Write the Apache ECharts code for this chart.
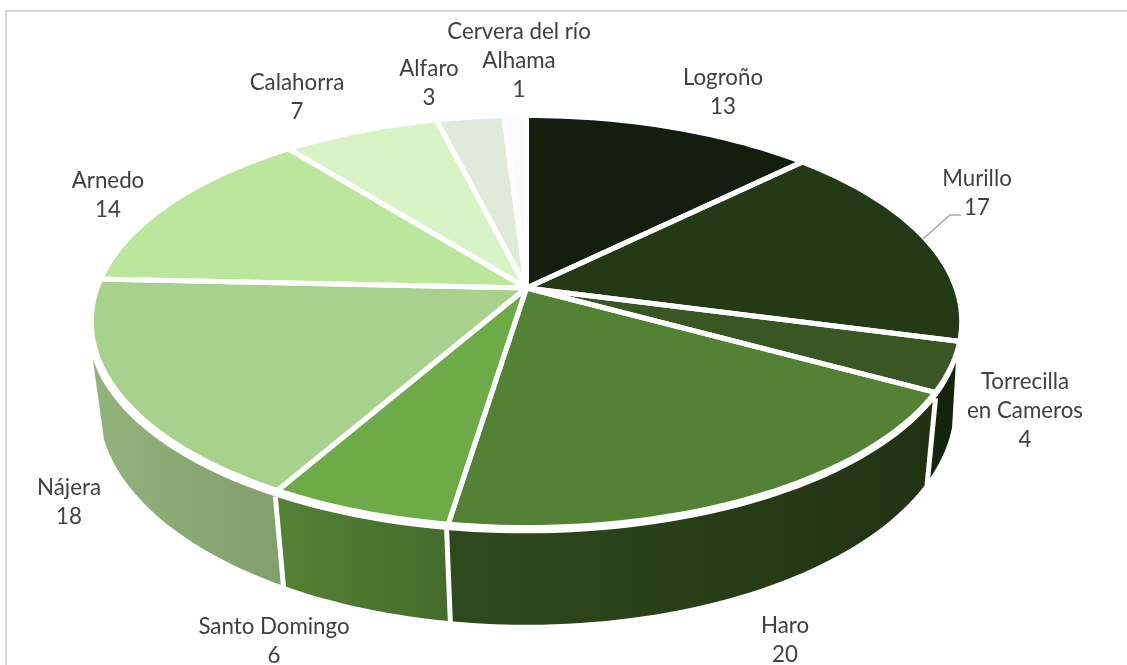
<!DOCTYPE html>
<html><head><meta charset="utf-8">
<style>html,body{margin:0;padding:0;background:#fff}#c{width:1127px;height:665px}</style>
<script src="https://cdn.jsdelivr.net/npm/echarts@6/dist/echarts.min.js"></script>
</head><body><div id="c"></div>
<script>
const categories = ['Logroño','Murillo','Torrecilla en Cameros','Haro','Santo Domingo','Nájera','Arnedo','Calahorra','Alfaro','Cervera del río Alhama'];
const values = [13,17,4,20,6,18,14,7,3,1];

const topColors = ['#131e0c','#243a17','#385723','#548235','#6dab48','#a9d18e','#bbe79d','#d8f3c6','#e0ead8','#fbfcfa'];
const sideColors = [null,null,['#15240c','#15240c'],['#2f4b1d','#203212'],['#548235','#466b2b'],['#91b37b','#819f6c'],null,null,null,null];

const labelLines = [['Logroño','13'],['Murillo','17'],['Torrecilla','en Cameros','4'],['Haro','20'],['Santo Domingo','6'],['Nájera','18'],['Arnedo','14'],['Calahorra','7'],['Alfaro','3'],['Cervera del río','Alhama','1']];
const labelCentre = [[723,92],[977,193],[1025,411],[785,640],[274,641],[69,502],[108,195],[297,97],[429,83],[519,61]];
const leader = [[923,239],[950,215],[961,215]];

// Perspective camera for the pie's rim circles
const CX = 526.5, TOP = {y0:288, ax:426.8, ay:198, p:0.1646}, BOT = {y0:370, ax:422.3, ay:214, p:0.16};
const SIDE_R = 1.01, SIDE_DY = 5.5, SIDE_DX = -1.5;
const FRONT_TOP = [109,252], FRONT_BOT = [105,252];
const total = values.reduce((a,b)=>a+b,0);
const cum = values.reduce((a,v)=>{a.push(a[a.length-1]+v);return a;},[0]);

function proj(c, deg, r, dy, dx){
  const t = deg*Math.PI/180, X = r*Math.sin(t), Y = -r*Math.cos(t), w = 1-c.p*Y;
  return [CX + (dx||0) + c.ax*X/w, c.y0 + (dy||0) + c.ay*Y/w];
}
function arc(c, a, b, r, dy, dx){
  const n = Math.max(2, Math.ceil(Math.abs(b-a)/1.5)), out = [];
  for(let i=0;i<=n;i++) out.push(proj(c, a+(b-a)*i/n, r, dy, dx));
  return out;
}

function renderItem(params, api){
  const i = params.dataIndex, start = cum[i]/total*360, end = start + api.value(0)/total*360;
  const children = [];
  const sc = sideColors[i];
  if(sc){
    const up = arc(TOP,Math.max(start,FRONT_TOP[0]),Math.min(end,FRONT_TOP[1]),SIDE_R,SIDE_DY,SIDE_DX);
    const lo = arc(BOT,Math.max(start,FRONT_BOT[0]),Math.min(end,FRONT_BOT[1]),1).reverse();
    children.push({type:'polygon', shape:{points:up.concat(lo)}, z2:1,
      style:{fill:new echarts.graphic.LinearGradient(0,0,1,0,[{offset:0,color:sc[0]},{offset:1,color:sc[1]}])}});
    if(start > FRONT_TOP[0]){
      const p = proj(TOP,start,SIDE_R,SIDE_DY,SIDE_DX), q = proj(BOT,start,1);
      const qx = q[0]+(q[0]-p[0])*0.04, qy = q[1]+(q[1]-p[1])*0.04;
      children.push({type:'line', shape:{x1:p[0],y1:p[1],x2:qx,y2:qy}, z2:2, style:{stroke:'#fff',lineWidth:5}});
    }
  }
  const rim = arc(TOP,start,end,1);
  children.push({type:'polygon', shape:{points:[[CX,TOP.y0]].concat(rim)}, z2:3, style:{fill:topColors[i]}});
  [start,end].forEach(a=>{
    const q = proj(TOP,a,1.012);
    children.push({type:'line', shape:{x1:CX,y1:TOP.y0,x2:q[0],y2:q[1]}, z2:4, style:{stroke:'#fff',lineWidth:5}});
  });
  const lines = labelLines[i], c = labelCentre[i];
  lines.forEach((t,k)=>{
    children.push({type:'text', z2:6, style:{text:t, x:c[0], y:c[1]+(k-(lines.length-1)/2)*29, align:'center', verticalAlign:'middle',
      fontFamily:'Lato', fontSize:22.3, fill:'#404040'}});
  });
  return {type:'group', children};
}

const chart = echarts.init(document.getElementById('c'), null, {renderer:'canvas'});
chart.setOption({
  animation:false,
  backgroundColor:'#fff',
  tooltip:{show:false},
  graphic:[
    {type:'line', shape:{x1:6,y1:11,x2:1127,y2:11}, style:{stroke:'#d9d9d9',lineWidth:2}},
    {type:'line', shape:{x1:6,y1:10,x2:6,y2:665}, style:{stroke:'#d9d9d9',lineWidth:2}},
    {type:'polyline', shape:{points:leader}, style:{stroke:'#a6a6a6',lineWidth:1.5,fill:null}}
  ],
  series:[{type:'custom', coordinateSystem:'none', renderItem, silent:true,
    data: values.map((v,i)=>({name:categories[i], value:[v]}))}]
});
</script></body></html>
